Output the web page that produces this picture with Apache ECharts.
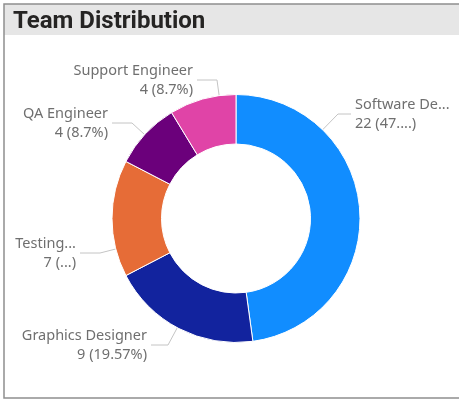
<!DOCTYPE html>
<html><head><meta charset="utf-8">
<script src="https://cdn.jsdelivr.net/npm/echarts@6/dist/echarts.min.js"></script>
<style>html,body{margin:0;padding:0;background:#fff}#c{width:459px;height:400px}</style>
</head><body><div id="c"></div>
<script>
const titleText = 'Team Distribution';
const categories = ['Software Developer', 'Graphics Designer', 'Testing Engineer', 'QA Engineer', 'Support Engineer'];
const values = [22, 9, 7, 4, 4];
const colors = ['#118DFF', '#12239E', '#E66C37', '#6B007B', '#E044A7'];
// characters kept before "..." (name, percent) as in the source visual's clipped labels
const nameChars = [11, null, 7, null, null];
const pctChars = [3, null, 0, null, null];
// label layout (anchor x, y, alignment) and leader line horizontal length
const labelPos = [[351, 114, 'left'], [151, 345, 'right'], [80, 253, 'right'], [112, 123, 'right'], [197, 80, 'right']];
const labelLen2 = [13, 17, 20, 20, 20];

const PIE_CENTER = [236, 218.5];
const PIE_RADIUS = [74.5, 124];

const total = values.reduce((a, b) => a + b, 0);
function clip(s, n) { return (n === null || n === undefined || s.length <= n) ? s : s.slice(0, n) + '...'; }

const data = categories.map((c, i) => ({
  name: c, value: values[i],
  itemStyle: { color: colors[i] }
}));

const chart = echarts.init(document.getElementById('c'), null, { renderer: 'canvas' });
chart.setOption({
  animation: false,
  graphic: [
    { type: 'rect', shape: { x: 4, y: 4, width: 470, height: 31 }, style: { fill: '#e6e6e6' }, z: 0 },
    { type: 'rect', shape: { x: 4, y: 4, width: 470, height: 394 }, style: { fill: 'none', stroke: '#8f8f8f', lineWidth: 1.5 }, z: 1 },
    { type: 'text', x: 13, y: 22, style: { text: titleText, font: 'bold 24px Roboto', fill: '#252423', textVerticalAlign: 'middle' }, z: 2 }
  ],
  series: [{
    type: 'pie',
    center: PIE_CENTER,
    radius: PIE_RADIUS,
    startAngle: 90,
    clockwise: true,
    avoidLabelOverlap: false,
    emphasis: { disabled: true },
    itemStyle: { borderColor: '#ffffff', borderWidth: 1 },
    label: {
      show: true,
      position: 'outside',
      fontFamily: 'Noto Sans',
      fontSize: 14.5,
      lineHeight: 19,
      color: '#6f6f6f',
      padding: [0, 4, 0, 4],
      formatter: (p) => {
        const i = p.dataIndex;
        const pct = (+(p.value / total * 100).toFixed(2)) + '%';
        return clip(p.name, nameChars[i]) + '\n' + p.value + ' (' + clip(pct, pctChars[i]) + ')';
      }
    },
    labelLine: { show: true, lineStyle: { color: '#c4c4c4', width: 1 }, minTurnAngle: 0 },
    labelLayout: (params) => {
      const i = params.dataIndex;
      const lp = labelPos[i];
      const dir = lp[2] === 'left' ? -1 : 1;
      const p0 = [lp[0], lp[1]];
      const p1 = [lp[0] + dir * labelLen2[i], lp[1]];
      const dx = p1[0] - PIE_CENTER[0], dy = p1[1] - PIE_CENTER[1];
      const d = Math.sqrt(dx * dx + dy * dy);
      const p2 = [PIE_CENTER[0] + PIE_RADIUS[1] * dx / d, PIE_CENTER[1] + PIE_RADIUS[1] * dy / d];
      return { x: lp[0], y: lp[1], align: lp[2], verticalAlign: 'middle', hideOverlap: false, moveOverlap: null, labelLinePoints: [p2, p1, p0] };
    },
    data: data
  }]
});
</script></body></html>
